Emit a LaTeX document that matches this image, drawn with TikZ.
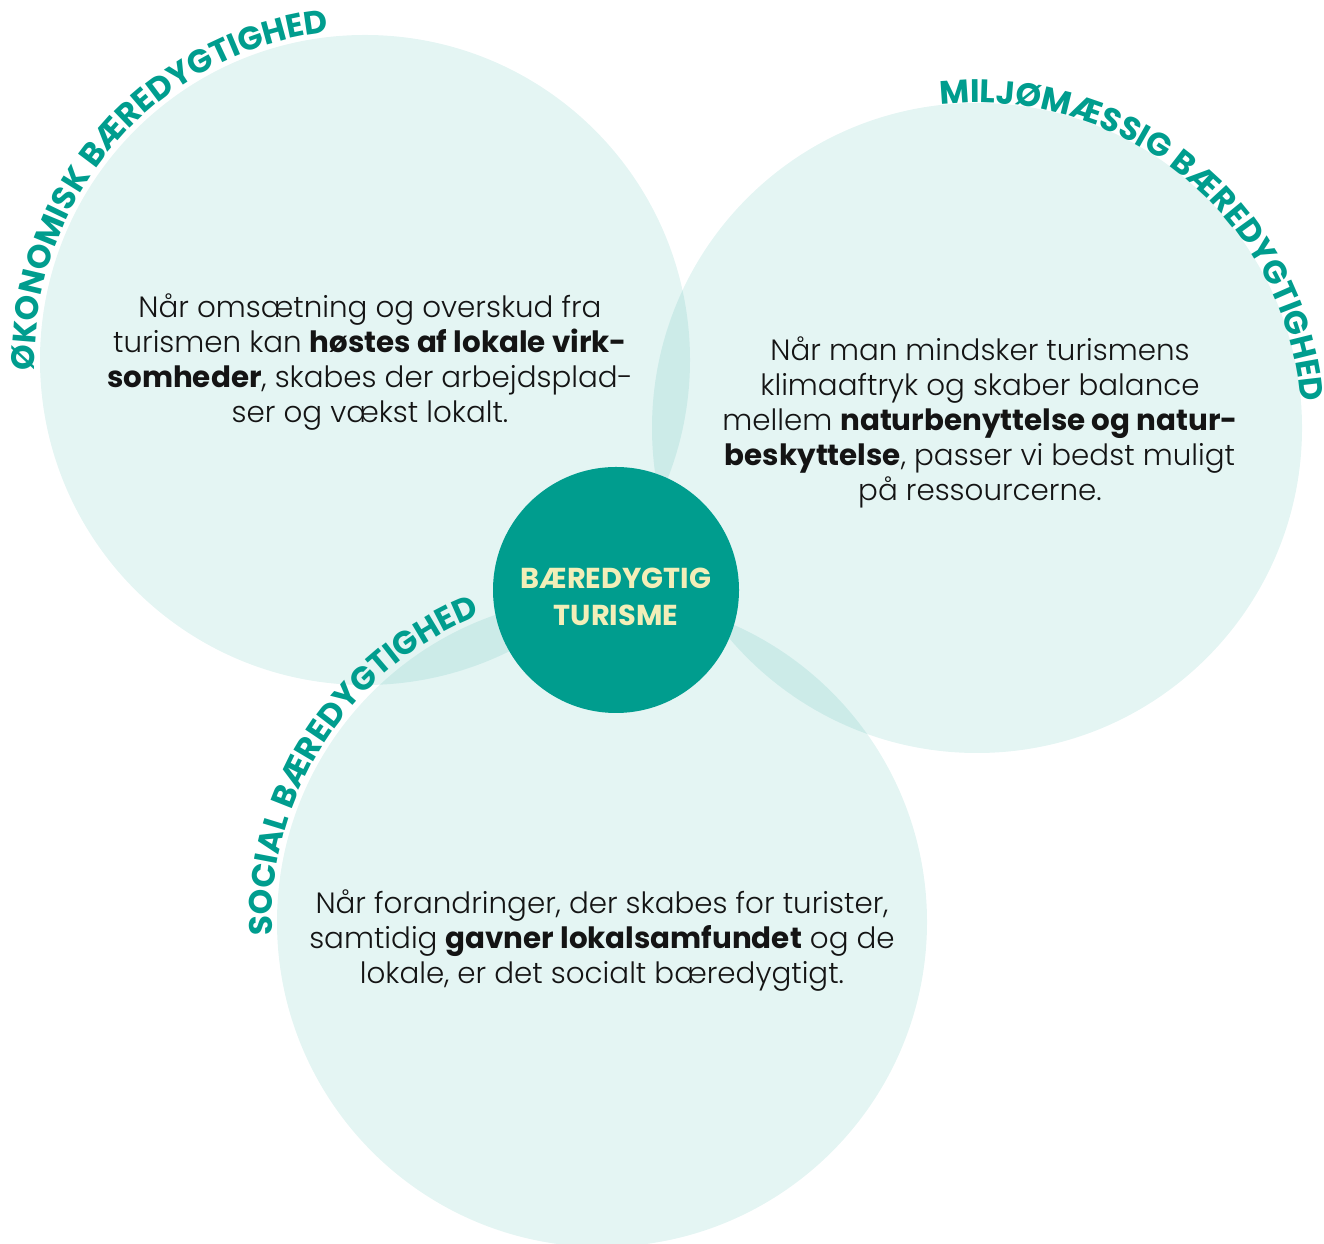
\documentclass[tikz,border=0pt]{standalone}
\usepackage{fontspec}
\IfFontExistsTF{Poppins Light}
  {\setmainfont{Poppins Light}[BoldFont={Poppins Bold}]}
  {\IfFontExistsTF{Poppins-Light}
     {\setmainfont{Poppins-Light}[BoldFont={Poppins-Bold}]}
     {\setmainfont{Poppins}}}
\newfontfamily\rubrikfont{Poppins}
\usepackage{xcolor}
\definecolor{petrol}{RGB}{0,157,142}
\definecolor{lysgul}{RGB}{242,238,184}
\definecolor{tekstsort}{RGB}{20,20,20}
\usepackage{tikz}
\usetikzlibrary{decorations.text,positioning}
\tikzstyle{storcirkel}=[circle, fill=petrol, fill opacity=0.105,
                    minimum size=13cm, inner sep=0pt,
                    outer sep=0pt]
\tikzstyle{midtcirkel}=[circle, fill=petrol, minimum size=4.92cm,
                    inner sep=0pt, outer sep=0pt]
\tikzstyle{midttekst}=[align=center, text=lysgul,
                    font=\rubrikfont\bfseries\fontsize{16.4}{21}\selectfont]
\tikzstyle{brodtekst}=[align=center, text=tekstsort,
                    font=\fontsize{16.7}{19.9}\selectfont]
\tikzstyle{buetekst}=[decorate, decoration={text along path,
                    text align=center, text color=petrol}]
\newcommand{\buefont}{\rubrikfont\bfseries\fontsize{18.5}{20}\selectfont}

\begin{document}
\begin{tikzpicture}
    \useasboundingbox (0,0) rectangle (26.48,24.86);

    \foreach \navn/\x/\y in {oko/7.30/17.66, milj/19.54/16.30, soc/12.04/6.42}
        \node[storcirkel] (\navn) at (\x,\y) {};

    \node[midtcirkel] (midt) at (12.32,13.06) {};
    \node[midttekst] (midtnavn) at ([yshift=-0.14cm]midt.center)
        {BÆREDYGTIG\\TURISME};

    % buede overskrifter
    \path[buetekst, decoration={text={|\buefont|ØKONOMISK BÆREDYGTIGHED}}]
        (oko.center) ++(199:6.6) arc[start angle=199, end angle=79, radius=6.6];
    \path[buetekst, decoration={text={|\buefont|MILJØMÆSSIG BÆREDYGTIGHED}}]
        (milj.center) ++(110.5:6.5) arc[start angle=110.5, end angle=-9.5, radius=6.5];
    \path[buetekst, decoration={text={|\buefont|SOCIAL BÆREDYGTIGHED}}]
        (soc.center) ++(202:6.6) arc[start angle=202, end angle=92, radius=6.6];

    % tekster
    \node[brodtekst] (okotekst) at ([xshift=0.1cm,yshift=-0.04cm]oko.center)
        {Når omsætning og overskud fra\\
         turismen kan \textbf{høstes af lokale virk-}\\
         \textbf{somheder}, skabes der arbejdsplad-\\
         ser og vækst lokalt.};
    \node[brodtekst] (miljtekst) at ([xshift=0.06cm,yshift=0.12cm]milj.center)
        {Når man mindsker turismens\\
         klimaaftryk og skaber balance\\
         mellem \textbf{naturbenyttelse og natur-}\\
         \textbf{beskyttelse}, passer vi bedst muligt\\
         på ressourcerne.};
    \node[brodtekst] (soctekst) at ([yshift=-0.38cm]soc.center)
        {Når forandringer, der skabes for turister,\\
         samtidig \textbf{gavner lokalsamfundet} og de\\
         lokale, er det socialt bæredygtigt.};
\end{tikzpicture}
\end{document}
